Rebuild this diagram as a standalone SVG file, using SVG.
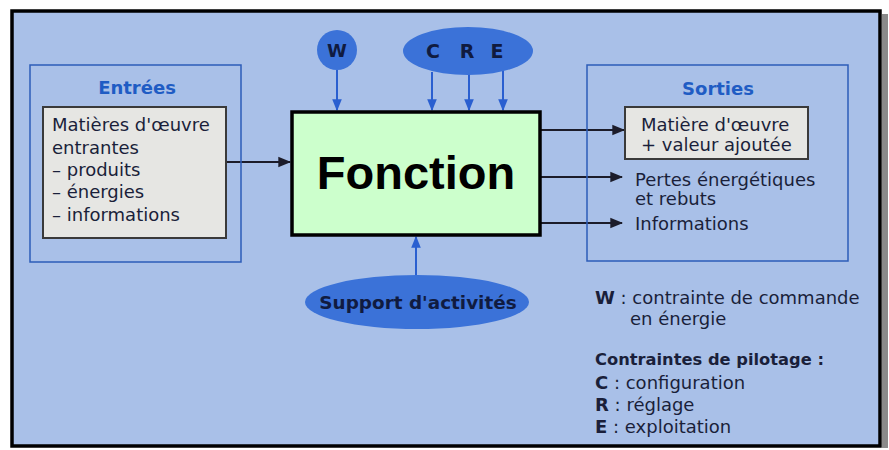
<svg xmlns="http://www.w3.org/2000/svg" width="889" height="450" viewBox="0 0 889 450">
  <style>
    .txt { font-family: "DejaVu Sans", "Open Sans", sans-serif; fill: #1a1f3a; }
    .body { font-size: 18px; }
    .subhead { font-size: 16.3px; font-weight: bold; }
    .head { font-size: 18px; font-weight: bold; fill: #1f5cc4; }
    .badge { font-weight: bold; fill: #101b40; }
    .zone { fill: none; stroke: #2d5cb8; stroke-width: 1.5; }
    .card { fill: #e6e6e3; stroke: #3a3a3a; stroke-width: 2; }
    .ctrl { fill: #3b72d8; }
    .flow { stroke: #1c1c2a; stroke-width: 2; fill: none; }
    .cmd { stroke: #2a5fd0; stroke-width: 2; fill: none; }
  </style>
  <defs>
    <marker id="headDark" viewBox="0 0 10 10" refX="9" refY="5" markerWidth="6.5" markerHeight="6.5" orient="auto" markerUnits="strokeWidth">
      <path d="M0,1 L10,5 L0,9 z" fill="#1c1c2a"/>
    </marker>
    <marker id="headBlue" viewBox="0 0 10 10" refX="9" refY="5" markerWidth="6" markerHeight="6" orient="auto" markerUnits="strokeWidth">
      <path d="M0,1 L10,5 L0,9 z" fill="#2a5fd0"/>
    </marker>
  </defs>

  <!-- page background and frame -->
  <rect x="0" y="0" width="889" height="450" fill="#ffffff"/>
  <rect x="882" y="14" width="6" height="434" fill="#8a8a8a"/>
  <rect x="12" y="11" width="868" height="435" fill="#a9c0e8" stroke="#000000" stroke-width="3.5"/>

  <!-- connectors -->
  <g id="connectors">
    <line class="flow" x1="226" y1="162" x2="290" y2="162" marker-end="url(#headDark)"/>
    <line class="flow" x1="540" y1="130" x2="624" y2="130" marker-end="url(#headDark)"/>
    <line class="flow" x1="540" y1="177" x2="622" y2="177" marker-end="url(#headDark)"/>
    <line class="flow" x1="540" y1="223" x2="622" y2="223" marker-end="url(#headDark)"/>
    <line class="cmd" x1="337" y1="70" x2="337" y2="110" marker-end="url(#headBlue)"/>
    <line class="cmd" x1="432" y1="72" x2="432" y2="110" marker-end="url(#headBlue)"/>
    <line class="cmd" x1="469" y1="74" x2="469" y2="110" marker-end="url(#headBlue)"/>
    <line class="cmd" x1="503" y1="70" x2="503" y2="110" marker-end="url(#headBlue)"/>
    <line class="cmd" x1="416" y1="276" x2="416" y2="237" marker-end="url(#headBlue)"/>
  </g>

  <!-- inputs -->
  <g id="entrees">
    <rect class="zone" x="30" y="65" width="211" height="197"/>
    <text class="txt head" x="137" y="94" text-anchor="middle">Entrées</text>
    <rect class="card" x="43" y="107" width="183" height="131"/>
    <text class="txt body" x="52" y="131">Matières d'œuvre</text>
    <text class="txt body" x="52" y="154">entrantes</text>
    <text class="txt body" x="52" y="176">– produits</text>
    <text class="txt body" x="52" y="198">– énergies</text>
    <text class="txt body" x="52" y="221">– informations</text>
  </g>

  <!-- function block -->
  <g id="fonction">
    <rect x="292" y="112" width="248" height="123" fill="#ccffcc" stroke="#000000" stroke-width="3.5"/>
    <text x="416" y="189" text-anchor="middle" font-family="'Liberation Sans', Arial, sans-serif" font-size="47" font-weight="bold" fill="#000000">Fonction</text>
  </g>

  <!-- energy command -->
  <g id="w">
    <circle class="ctrl" cx="337" cy="50" r="20"/>
    <text class="txt badge" x="337" y="57" font-size="18" text-anchor="middle">W</text>
  </g>

  <!-- piloting constraints -->
  <g id="cre">
    <ellipse class="ctrl" cx="468" cy="51" rx="65" ry="24"/>
    <text class="txt badge" x="433" y="58" font-size="19" text-anchor="middle">C</text>
    <text class="txt badge" x="467" y="58" font-size="19" text-anchor="middle">R</text>
    <text class="txt badge" x="497" y="58" font-size="19" text-anchor="middle">E</text>
  </g>

  <!-- activity support -->
  <g id="support">
    <ellipse class="ctrl" cx="417" cy="302" rx="112" ry="27"/>
    <text class="txt badge" x="418" y="309" font-size="18.4" text-anchor="middle">Support d'activités</text>
  </g>

  <!-- outputs -->
  <g id="sorties">
    <rect class="zone" x="587" y="65" width="261" height="196"/>
    <text class="txt head" x="718" y="95" text-anchor="middle">Sorties</text>
    <rect class="card" x="625" y="107" width="183" height="52"/>
    <text class="txt body" x="641" y="131">Matière d'œuvre</text>
    <text class="txt body" x="641" y="151">+ valeur ajoutée</text>
    <text class="txt body" x="635" y="186">Pertes énergétiques</text>
    <text class="txt body" x="635" y="205">et rebuts</text>
    <text class="txt body" x="635" y="230">Informations</text>
  </g>

  <!-- legend -->
  <g id="legende">
    <text class="txt body" x="595" y="304"><tspan font-weight="bold">W</tspan> : contrainte de commande</text>
    <text class="txt body" x="630" y="325">en énergie</text>
    <text class="txt subhead" x="595" y="365">Contraintes de pilotage :</text>
    <text class="txt body" x="595" y="389"><tspan font-weight="bold">C</tspan> : configuration</text>
    <text class="txt body" x="595" y="411"><tspan font-weight="bold">R</tspan> : réglage</text>
    <text class="txt body" x="595" y="433"><tspan font-weight="bold">E</tspan> : exploitation</text>
  </g>
</svg>
